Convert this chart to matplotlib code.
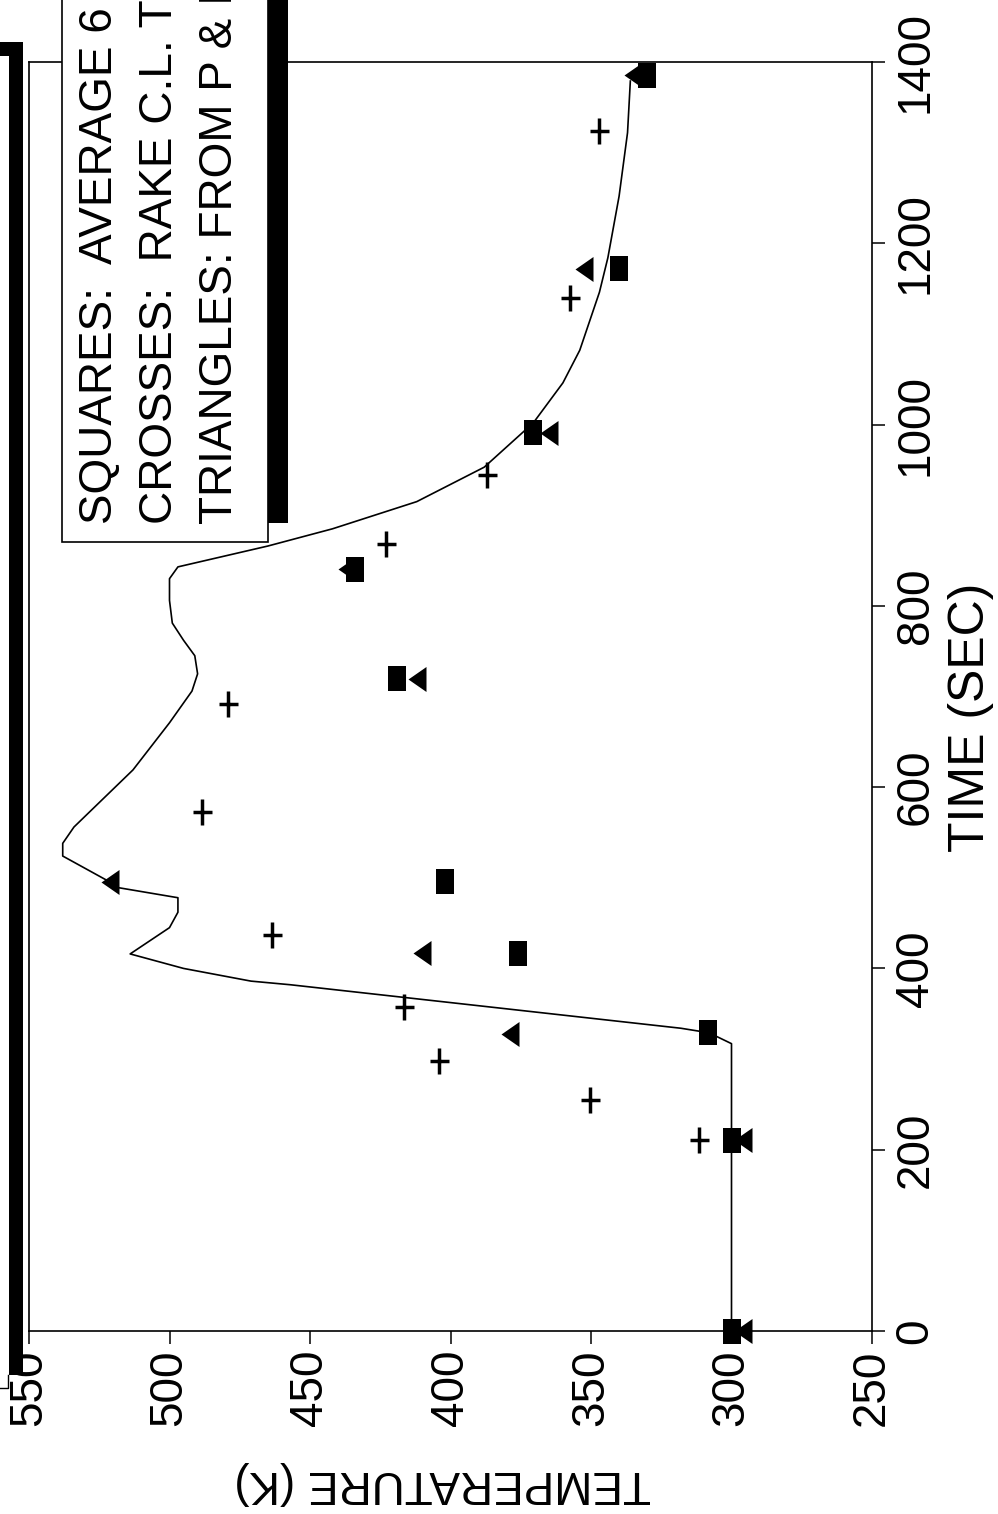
import matplotlib
matplotlib.use('Agg')
import matplotlib.pyplot as plt
from matplotlib.patches import Rectangle
from matplotlib.lines import Line2D
from matplotlib.path import Path

plt.rcParams['font.family'] = ['Liberation Sans', 'DejaVu Sans']

curve_time = [0, 317, 329, 334, 382, 386, 400, 416, 445, 462, 478, 489, 495, 524, 538, 556,
              580, 619, 671, 706, 725, 745, 762, 781, 806, 830, 843, 866, 885, 915, 953,
              1002, 1046, 1082, 1146, 1184, 1252, 1322, 1379]
curve_temp = [300, 300, 308, 318, 457, 471, 495, 514, 500, 497, 497, 518, 521, 538, 538, 534,
              526, 513, 500, 492, 490, 491, 495, 499, 500, 500, 497, 465, 442, 412, 388,
              370.5, 360, 354, 347, 344, 340, 337, 336]

square_time = [0, 211, 330, 417, 497, 720, 841, 992, 1173, 1386]
square_temp = [300, 300, 308.5, 376, 402, 419, 434, 370.5, 340, 330]

cross_time = [211, 255, 298, 357, 437, 573, 692, 868, 944, 1140, 1324]
cross_temp = [311.7, 350.5, 404, 416.4, 463.4, 488.4, 479.1, 423, 387, 357.3, 347.3]

tri_time = [0, 211, 328, 417, 495, 719, 841, 991, 1172, 1386]
tri_temp = [296, 296, 379, 410, 521, 412, 437, 365, 352.6, 335]

temp_ticks = [550, 500, 450, 400, 350, 300, 250]
time_ticks = [0, 200, 400, 600, 800, 1000, 1200, 1400]

legend_lines = ['SQUARES:  AVERAGE 6', 'CROSSES:  RAKE C.L. TC', 'TRIANGLES: FROM P & I']

W, H = 998, 1514


def fx(x):
    return x / W


def fy(y):
    return 1 - y / H


fig = plt.figure(figsize=(W / 100, H / 100), dpi=100)
# the chart is printed turned a quarter turn: temperature runs right-to-left, time upwards
ax = fig.add_axes([fx(29), fy(1331), fx(872) - fx(29), fy(62) - fy(1331)])
ax.set_xlim(550, 250)
ax.set_ylim(0, 1400)

ax.plot(curve_temp, curve_time, color='black', lw=1.2, zorder=2)

rect = [(-0.36, -0.5), (0.36, -0.5), (0.36, 0.5), (-0.36, 0.5)]
tri = [(-0.36, 0), (0.36, -0.5), (0.36, 0.5)]
plus = Path([(0, -0.5), (0, 0.5), (-0.36, 0), (0.36, 0)],
            [Path.MOVETO, Path.LINETO, Path.MOVETO, Path.LINETO])

ax.plot(tri_temp, tri_time, ls='none', marker=tri, ms=18, color='black', mew=0,
        clip_on=False, zorder=3)
ax.plot(square_temp, square_time, ls='none', marker=rect, ms=18, color='black', mew=0,
        clip_on=False, zorder=4)
ax.plot(cross_temp, cross_time, ls='none', marker=plus, ms=19, mfc='none', mec='black',
        mew=2.5, clip_on=False, zorder=4)

ax.set_xticks(temp_ticks)
ax.set_yticks(time_ticks)
ax.yaxis.tick_right()
ax.tick_params(axis='both', direction='out', length=9.5, width=1.1, labelsize=33)
ax.tick_params(axis='x', labelrotation=90, pad=4)
ax.tick_params(axis='y', labelrotation=90, pad=6)
for lab in ax.get_yticklabels():
    lab.set_va('center')
for sp in ax.spines.values():
    sp.set_linewidth(1.2)

fig.text(fx(971), fy(717), 'TIME (SEC)', rotation=90, fontsize=36, ha='center', va='center')
fig.text(fx(443), fy(1483), 'TEMPERATURE (K)', rotation=180, fontsize=33,
         ha='center', va='center')

# legend box with its drop shadow, cut by the top edge
fig.add_artist(Rectangle((fx(268), fy(523)), fx(20), 1 - fy(523) + 0.01,
                         transform=fig.transFigure, facecolor='black', edgecolor='none'))
fig.add_artist(Rectangle((fx(62), fy(542)), fx(268) - fx(62), 1 - fy(542) + 0.01,
                         transform=fig.transFigure, facecolor='white', edgecolor='black',
                         lw=1.2))
for xc, line in zip([100, 160, 220], legend_lines):
    fig.text(fx(xc), fy(524), line, rotation=90, fontsize=33, ha='center', va='bottom')

# shadow of a frame running off the left edge
fig.add_artist(Rectangle((fx(9), fy(1375)), fx(14), fy(42) - fy(1375),
                         transform=fig.transFigure, facecolor='black', edgecolor='none'))
fig.add_artist(Rectangle((0, fy(56)), fx(23), fy(42) - fy(56),
                         transform=fig.transFigure, facecolor='black', edgecolor='none'))
fig.add_artist(Line2D([0, fx(8), fx(8)], [fy(1388), fy(1388), fy(1375)],
                      transform=fig.transFigure, color='black', lw=1.0))

fig.savefig('out.png', dpi=100)
